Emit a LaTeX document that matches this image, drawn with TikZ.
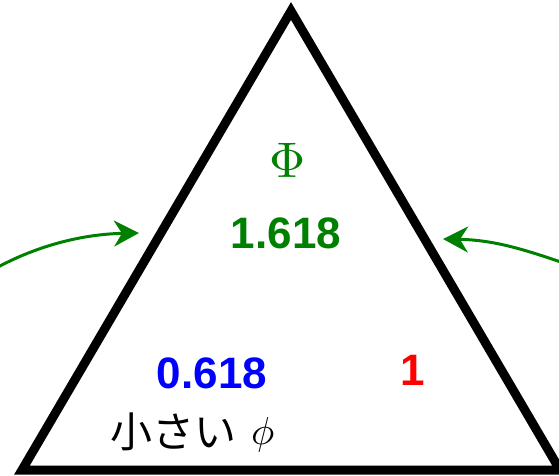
\documentclass[tikz,border=0pt]{standalone}
\usepackage{graphicx}
\usepackage{fontspec}
\setsansfont{Liberation Sans}
\newfontfamily\jpfont{Noto Sans CJK JP}
\usetikzlibrary{arrows.meta}
\definecolor{phigreen}{RGB}{0,128,0}
\tikzset{
  tri/.style={line width=9pt, line join=miter, black},
  num/.style={font=\sffamily\bfseries\fontsize{44}{44}\selectfont, inner sep=0pt},
  lbl/.style={inner sep=0pt},
  pointer/.style={phigreen, line width=3pt, -{Stealth[length=25pt, width=26pt, inset=8pt]}}
}
\begin{document}
\begin{tikzpicture}[x=1pt,y=-1pt]
\useasboundingbox (0,0) rectangle (559,475);
\coordinate (apex) at (291,11);
\coordinate (bl) at (22,470);
\coordinate (br) at (560,470);
\draw[tri] (apex) -- (bl) -- (br) -- cycle;
\node[lbl, phigreen] (Phi) at (288,160) {\scalebox{5}{$\Phi$}};
\node[num, phigreen] (big) at (286,233) {1.618};
\node[num, blue] (small) at (212,373) {0.618};
\node[num, red] (one) at (413,370) {1};
\node[lbl, anchor=base west] (jp) at (110,447) {{\jpfont\fontsize{42}{42}\selectfont 小さい}\hspace{15pt}\raisebox{2.5pt}{\scalebox{3.9}{\normalsize$\phi$}}};
\coordinate (lstart) at (-2,267);
\coordinate (lend) at (139,233);
\coordinate (rstart) at (561,262);
\coordinate (rend) at (443,239);
\draw[pointer] (lstart) .. controls (45,242) and (90,234) .. (lend);
\draw[pointer] (rstart) .. controls (525,250) and (495,240) .. (rend);
\end{tikzpicture}
\end{document}
